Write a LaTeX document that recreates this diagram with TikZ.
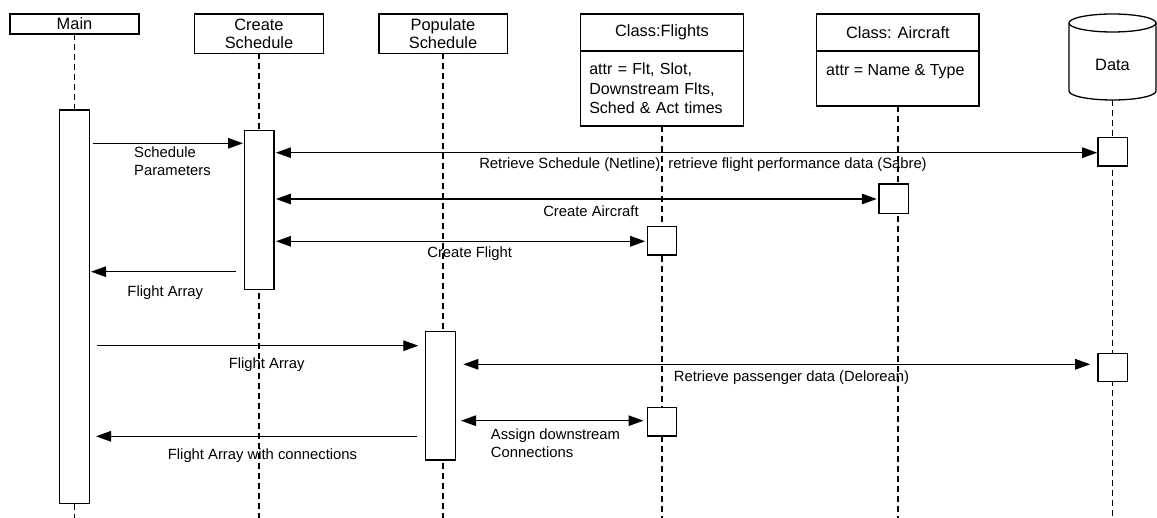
\documentclass[tikz,border=0pt]{standalone}
\usepackage{fontspec}
\setmainfont{Liberation Sans}
\usetikzlibrary{arrows.meta}
\usetikzlibrary{calc}

\begin{document}
\begin{tikzpicture}[x=1pt, y=-1pt,
      every node/.style={color=black},
      box/.style={draw, line width=1.3pt, fill=white, inner sep=0pt, outer sep=0pt},
      head/.style={box, font=\fontsize{16.4}{18}\selectfont, align=center},
      attr/.style={box, font=\fontsize{16}{19.5}\selectfont, align=left, inner xsep=8.6pt},
      act/.style={box, minimum width=29.6pt},
      life/.style={line width=1.3pt, dash pattern=on 6pt off 4pt},
      msg/.style={line width=1.3pt, -{Triangle[length=15pt,width=10.5pt]}},
      dmsg/.style={line width=1.3pt, {Triangle[length=15pt,width=10.5pt]}-{Triangle[length=15pt,width=10.5pt]}},
      lbl/.style={font=\fontsize{14.8}{18}\selectfont, inner sep=0pt}
      ]
      \useasboundingbox (0,0) rectangle (1157,518);

      % objects
      \node[head, minimum width=129pt, minimum height=20pt] (Main) at (74.5,24) {Main};
      \node[head, minimum width=129pt, minimum height=39.3pt] (Create) at (259,33.7) {Create\\Schedule};
      \node[head, minimum width=128.3pt, minimum height=39.3pt] (Populate) at (443,33.7) {Populate\\Schedule};
      \node[head, minimum width=162.6pt, minimum height=37pt] (Flights) at (662,32.5) {Class:Flights};
      \node[attr, text width=145.4pt, minimum height=75pt] (FlightsAttr) at (662,88.5)
            {attr = Flt, Slot,\\Downstream Flts,\\Sched \& Act times};
      \node[head, minimum width=162.3pt, minimum height=37pt] (Aircraft) at (897.85,32.5) {Class: Aircraft};
      \node[box, minimum width=162.3pt, minimum height=55pt] (AircraftAttr) at (897.85,78.5) {};
      \node[lbl, font=\fontsize{16}{19.5}\selectfont, anchor=base west] (AircraftAttrText) at (826,75.7) {attr = Name \& Type};

      % data store
      \draw[line width=1.3pt, fill=white] (1069,23) -- (1069,91)
            arc[start angle=180, end angle=360, x radius=43.5pt, y radius=9pt] -- (1156,23);
      \draw[line width=1.3pt] (1112.5,23) ellipse [x radius=43.5pt, y radius=9pt];
      \node[lbl, font=\fontsize{16.4}{18}\selectfont, anchor=base] (Data) at (1112.5,70.7) {Data};
      \coordinate (DataBottom) at (1112.7,100);

      % lifelines
      \draw[life] (Main.south) -- (Main.south |- 0,518);
      \draw[life] (Create.south) -- (Create.south |- 0,518);
      \draw[life] (Populate.south) -- (Populate.south |- 0,518);
      \draw[life] (FlightsAttr.south) -- (FlightsAttr.south |- 0,518);
      \draw[life] (AircraftAttr.south) -- (AircraftAttr.south |- 0,518);
      \draw[life] (DataBottom) -- (DataBottom |- 0,518);

      % activations
      \node[act, minimum height=393.3pt] (MainAct) at (74.5,306.65) {};
      \node[act, minimum height=158.6pt] (CreateAct) at (259.15,210) {};
      \node[act, minimum height=128.3pt] (PopulateAct) at (440.5,395.85) {};
      \node[act, minimum height=28.7pt] (DataAct) at (1112.7,151.65) {};
      \node[act, minimum height=29.3pt] (AircraftAct) at (893.85,198.65) {};
      \node[act, minimum height=28.3pt] (FlightsAct) at (662,240.85) {};
      \node[act, minimum height=28.4pt] (DataActB) at (1112.7,367.5) {};
      \node[act, minimum height=28.7pt] (FlightsActB) at (662,421.65) {};

      % messages
      \draw[msg, shorten <=4pt, shorten >=1.3pt] (MainAct.east |- 0,143.3) -- (CreateAct.west |- 0,143.3);
      \node[lbl, anchor=west, align=left] (SchedParams) at (134,161.4) {Schedule\\Parameters};

      \draw[dmsg, shorten <=2pt, shorten >=0.7pt] (CreateAct.east |- 0,152.7) -- (DataAct.west |- 0,152.7);
      \node[lbl, anchor=base] (RetrieveSched) at (703,168.2)
            {Retrieve Schedule (Netline), retrieve flight performance data (Sabre)};

      \draw[dmsg, shorten <=2pt, shorten >=2.3pt] (CreateAct.east |- 0,199) -- (AircraftAct.west |- 0,199);
      \node[lbl, anchor=base] (CreateAircraft) at (591,216.2) {Create Aircraft};

      \draw[dmsg, shorten <=2pt, shorten >=2pt] (CreateAct.east |- 0,241.3) -- (FlightsAct.west |- 0,241.3);
      \node[lbl, anchor=base] (CreateFlight) at (469.7,257.5) {Create Flight};

      \draw[msg, shorten <=8.3pt, shorten >=1.7pt] (CreateAct.west |- 0,271.7) -- (MainAct.east |- 0,271.7);
      \node[lbl, anchor=base] (FlightArray) at (165.3,296.2) {Flight Array};

      \draw[msg, shorten <=7.4pt, shorten >=7.4pt] (MainAct.east |- 0,345.7) -- (PopulateAct.west |- 0,345.7);
      \node[lbl, anchor=base] (FlightArrayB) at (266.7,368.5) {Flight Array};

      \draw[dmsg, shorten <=8pt, shorten >=7.7pt] (PopulateAct.east |- 0,364.3) -- (DataActB.west |- 0,364.3);
      \node[lbl, anchor=base] (RetrievePax) at (791.5,381.9) {Retrieve passenger data (Delorean)};

      \draw[dmsg, shorten <=5.7pt, shorten >=3.7pt] (PopulateAct.east |- 0,420.7) -- (FlightsActB.west |- 0,420.7);
      \node[lbl, anchor=west, align=left] (AssignConn) at (490.7,442.9) {Assign downstream\\Connections};

      \draw[msg, shorten <=9pt, shorten >=6.7pt] (PopulateAct.west |- 0,436.3) -- (MainAct.east |- 0,436.3);
      \node[lbl, anchor=base] (FlightArrayConn) at (262.5,459.2) {Flight Array with connections};
\end{tikzpicture}
\end{document}
